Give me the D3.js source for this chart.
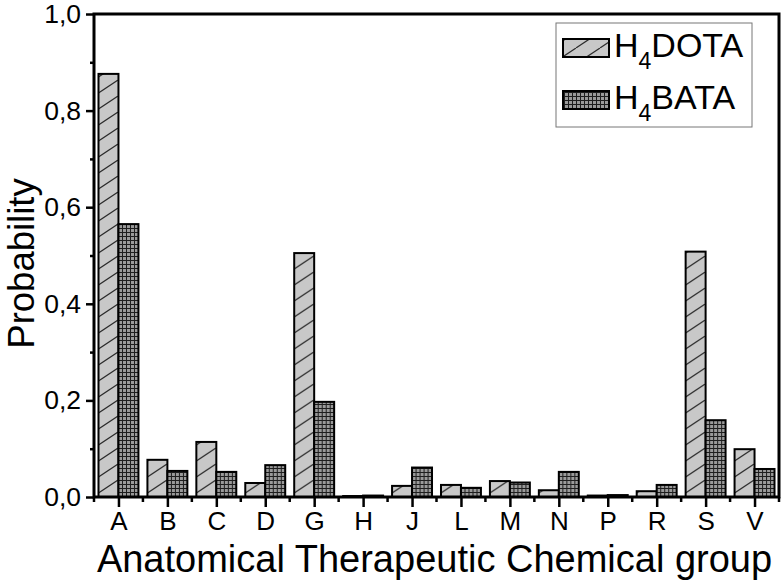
<!DOCTYPE html>
<html><head><meta charset="utf-8">
<script src="https://cdn.jsdelivr.net/npm/d3@7"></script>
<style>body{margin:0;background:#fff}svg{display:block;font-family:"Liberation Sans",Arial,sans-serif}</style>
</head><body>
<svg id="c" width="784" height="586"></svg>
<script>
const categories = ["A","B","C","D","G","H","J","L","M","N","P","R","S","V"];
const seriesNames = ["H4DOTA","H4BATA"];
const dotaValues = [0.876,0.077,0.114,0.029,0.505,0.002,0.023,0.025,0.033,0.014,0.003,0.012,0.508,0.099];
const bataValues = [0.565,0.054,0.052,0.066,0.197,0.003,0.061,0.019,0.030,0.052,0.004,0.025,0.159,0.058];
const yMajorTicks = [0,0.2,0.4,0.6,0.8,1.0];
const yTickLabels = ["0,0","0,2","0,4","0,6","0,8","1,0"];

const svg = d3.select("#c");
const L=94, R=779, T=14, B=497;
const x0 = d3.scaleBand().domain(categories).range([L,R]).padding(0);
const x1 = d3.scaleBand().domain(seriesNames).range([0,x0.bandwidth()]).paddingInner(0).paddingOuter(0.225);
const y = d3.scaleLinear().domain([0,1]).range([B,T]);

const defs = svg.append("defs");
const p1 = defs.append("pattern").attr("id","hatch").attr("patternUnits","userSpaceOnUse").attr("width",24).attr("height",16);
p1.append("rect").attr("width",24).attr("height",16).attr("fill","#c8c8c8");
[-24,0,24].forEach(o=>p1.append("line").attr("x1",o).attr("y1",16).attr("x2",o+24).attr("y2",0).attr("stroke","#2a2a2a").attr("stroke-width",1.2));
const p2 = defs.append("pattern").attr("id","grid").attr("patternUnits","userSpaceOnUse").attr("width",4).attr("height",4);
p2.append("rect").attr("width",4).attr("height",4).attr("fill","#9a9a9a");
p2.append("path").attr("d","M0,0.5H4M0.5,0V4").attr("stroke","#1e1e1e").attr("stroke-width",1);

const fills = {"H4DOTA":"url(#hatch)","H4BATA":"url(#grid)"};
const rows = categories.map((c,i)=>({c, vals:[{s:"H4DOTA",v:dotaValues[i]},{s:"H4BATA",v:bataValues[i]}]}));

const g = svg.append("g").selectAll("g").data(rows).join("g").attr("transform",d=>`translate(${x0(d.c)},0)`);
g.selectAll("rect").data(d=>d.vals).join("rect")
  .attr("x",d=>x1(d.s)).attr("width",x1.bandwidth())
  .attr("y",d=>y(d.v)).attr("height",d=>B-y(d.v))
  .attr("fill",d=>fills[d.s]).attr("stroke","#000").attr("stroke-width",2);

// y axis
const yAxis = svg.append("g").attr("transform",`translate(${L},0)`);
yAxis.call(d3.axisLeft(y).tickValues(yMajorTicks).tickSize(8).tickFormat((d,i)=>yTickLabels[i]))
yAxis.append("g").call(d3.axisLeft(y).tickValues([0.1,0.3,0.5,0.7,0.9]).tickSize(4).tickFormat(""));
yAxis.selectAll("path.domain").remove();
yAxis.selectAll("line").attr("stroke","#000").attr("stroke-width",2.5);
yAxis.selectAll("text").attr("font-size",26.5).attr("fill","#000").attr("x",-13).attr("font-family","Liberation Sans, Arial, sans-serif");

// x axis
const xAxis = svg.append("g").attr("transform",`translate(0,${B})`);
const xc = d3.scalePoint().domain(categories).range([x0(categories[0])+x0.bandwidth()/2, x0(categories[categories.length-1])+x0.bandwidth()/2]);
xAxis.call(d3.axisBottom(xc).tickSize(10).tickPadding(5));
const bounds = categories.map(c=>x0(c)).concat([R]);
xAxis.append("g").selectAll("line").data(bounds).join("line").attr("x1",d=>d).attr("x2",d=>d).attr("y1",0).attr("y2",5);
xAxis.selectAll("path.domain").remove();
xAxis.selectAll("line").attr("stroke","#000").attr("stroke-width",2.5);
xAxis.selectAll("text").attr("font-size",26).attr("fill","#000").attr("font-family","Liberation Sans, Arial, sans-serif");

// frame
svg.append("rect").attr("x",L).attr("y",T).attr("width",R-L).attr("height",B-T).attr("fill","none").attr("stroke","#000").attr("stroke-width",3);

// titles
svg.append("text").attr("x",(L+R)/2-2).attr("y",572).attr("text-anchor","middle").attr("font-size",38).text("Anatomical Therapeutic Chemical group");
svg.append("text").attr("transform",`translate(34,${(T+B)/2+8}) rotate(-90)`).attr("text-anchor","middle").attr("font-size",36.5).text("Probability");

// legend
svg.append("rect").attr("x",556).attr("y",23).attr("width",196).attr("height",104).attr("fill","#fff").attr("stroke","#777").attr("stroke-width",1);
const legY = [48,100];
seriesNames.forEach((s,i)=>{
  svg.append("rect").attr("x",563).attr("y",legY[i]-9).attr("width",46).attr("height",18).attr("fill",fills[s]).attr("stroke","#000").attr("stroke-width",2);
  const t = svg.append("text").attr("x",614).attr("y",legY[i]+9).attr("font-size",34);
  t.append("tspan").text(s.slice(0,1));
  t.append("tspan").attr("font-size",23).attr("dy",12).text(s.slice(1,2));
  t.append("tspan").attr("dy",-12).text(s.slice(2));
});
</script>
</body></html>
